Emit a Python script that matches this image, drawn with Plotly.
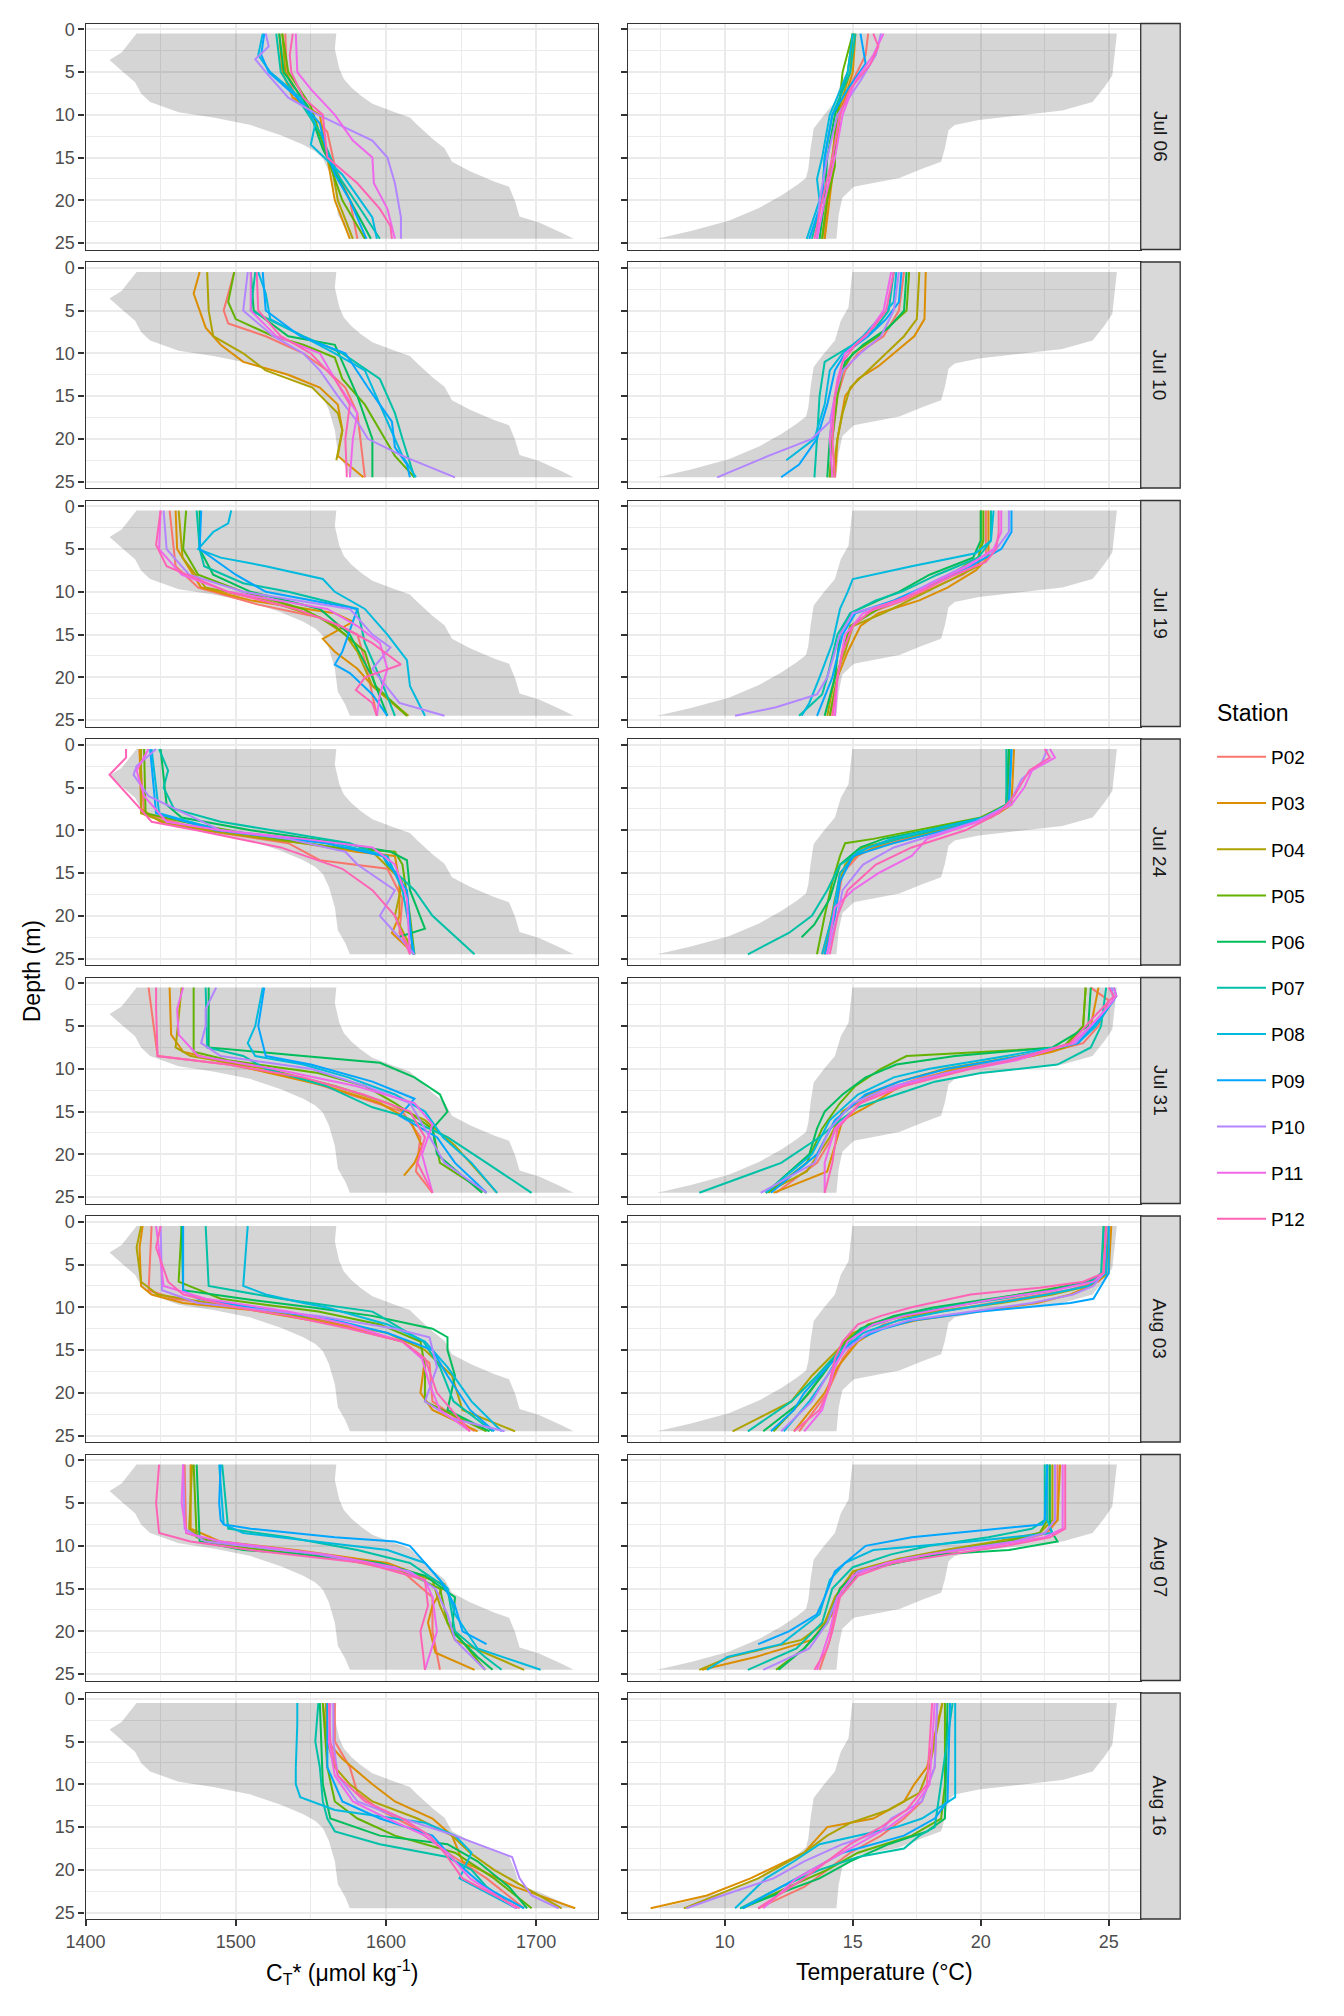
import plotly.graph_objects as go

# ---------------- data ----------------
STATIONS = ["P02", "P03", "P04", "P05", "P06", "P07", "P08", "P09", "P10", "P11", "P12"]
COLORS = ["#F8766D", "#DB8E00", "#AEA200", "#64B200", "#00BD5C", "#00C1A7",
          "#00BADE", "#00A6FF", "#B385FF", "#EF67EB", "#FF63B6"]
DATES = ["Jul 06", "Jul 10", "Jul 19", "Jul 24", "Jul 31", "Aug 03", "Aug 07", "Aug 16"]

X_TICKS_CT = [1400, 1500, 1600, 1700]
X_MINOR_CT = [1450, 1550, 1650]
X_TICKS_T = [10, 15, 20, 25]
X_MINOR_T = [7.5, 12.5, 17.5, 22.5]
Y_TICKS = [0, 5, 10, 15, 20, 25]
Y_MINOR = [2.5, 7.5, 12.5, 17.5, 22.5]

# envelope (depth, value)
BAND_CT_MIN = [(0.5, 1434), (2.7, 1424), (3.6, 1416), (4.1, 1419), (5, 1425), (6.2, 1433), (7.5, 1437),
               (8.5, 1443), (9.7, 1462), (10.3, 1485), (11.2, 1510), (12.4, 1530), (13.5, 1545),
               (14.3, 1553), (15.1, 1558), (16.6, 1562), (19, 1566), (21.7, 1568), (23.2, 1573), (24.5, 1576)]
BAND_CT_MAX = [(0.5, 1567), (2.3, 1566), (4.6, 1569), (5.8, 1572), (6.8, 1577), (7.7, 1583), (8.7, 1591),
               (9.7, 1606), (10.3, 1616), (11.2, 1621), (12.8, 1631), (13.9, 1639), (15.5, 1644),
               (16.6, 1656), (17.8, 1672), (18.4, 1682), (20.1, 1686), (21.3, 1688), (21.9, 1689),
               (22.6, 1702), (23.8, 1717), (24.5, 1725)]
BAND_T_MIN = [(0.5, 14.98), (4.6, 14.83), (6.2, 14.53), (8.5, 14.3), (10.1, 13.85), (11.6, 13.47),
              (13.9, 13.35), (16.3, 13.26), (17.4, 13.17), (18.2, 12.82), (19.4, 12.22), (20.9, 11.33),
              (22.4, 10.15), (23.6, 8.67), (24.2, 7.78), (24.5, 7.33)]
BAND_T_MAX = [(0.5, 25.32), (2.3, 25.26), (5.4, 25.14), (6.8, 24.82), (8.5, 24.37), (9.5, 23.19),
              (10.1, 21.41), (10.6, 19.93), (11.2, 18.98), (11.8, 18.74), (13.9, 18.6), (15.5, 18.45),
              (16.3, 17.71), (17.4, 16.82), (18.4, 15.04), (19.7, 14.59), (21.7, 14.45), (24.5, 14.36)]

# profiles: station -> [[depth, value], ...]
CT_JUL06 = {
    "P02": [[0.5, 1533], [5, 1534], [8, 1540], [12, 1561], [16, 1566], [20, 1576], [24.5, 1581]],
    "P03": [[0.5, 1529], [5, 1531], [8, 1538], [10, 1556], [15, 1561], [20, 1566], [24.5, 1576]],
    "P04": [[0.5, 1531], [5, 1533], [9, 1547], [15, 1563], [20, 1568], [24.5, 1578]],
    "P05": [[0.5, 1531], [5, 1535], [9, 1550], [15, 1561], [20, 1571], [24.5, 1586]],
    "P06": [[0.5, 1529], [5, 1532], [9, 1548], [14, 1558], [19, 1573], [24.5, 1590]],
    "P07": [[0.5, 1527], [5, 1530], [8, 1541], [12, 1556], [17, 1568], [21, 1583], [24.5, 1596]],
    "P08": [[0.5, 1518], [3, 1515], [5, 1523], [8, 1543], [11, 1553], [13.5, 1550], [17, 1571], [20, 1583], [22, 1591], [24.5, 1594]],
    "P09": [[0.5, 1519], [3, 1517], [5, 1522], [8, 1541], [11, 1556], [14, 1560], [17, 1566], [20, 1576], [24.5, 1587]],
    "P10": [[0.5, 1520], [2, 1522], [3.5, 1513], [5, 1520], [8, 1535], [10, 1555], [13, 1591], [15, 1601], [18, 1606], [22, 1610], [24.5, 1610]],
    "P11": [[0.5, 1540], [5, 1541], [7, 1550], [10, 1566], [13, 1578], [15, 1591], [18, 1592], [21, 1601], [24.5, 1606]],
    "P12": [[0.5, 1538], [3, 1536], [5, 1537], [8, 1545], [10, 1558], [15, 1561], [18, 1581], [21, 1596], [23, 1603], [24.5, 1604]],
}
T_JUL06 = {
    "P02": [[0.5, 15.6], [3, 15.5], [6, 15.0], [10, 14.4], [15, 14.2], [20, 14.0], [24.5, 13.9]],
    "P03": [[0.5, 15.1], [5, 15.0], [10, 14.5], [15, 14.3], [20, 14.1], [24.5, 13.9]],
    "P04": [[0.5, 15.0], [5, 14.9], [10, 14.4], [15, 14.2], [20, 14.0], [24.5, 13.8]],
    "P05": [[0.5, 15.0], [5, 14.6], [8, 14.5], [12, 14.3], [16, 14.3], [20, 14.0], [24.5, 13.8]],
    "P06": [[0.5, 15.0], [5, 14.8], [10, 14.3], [15, 14.0], [20, 13.9], [24.5, 13.7]],
    "P07": [[0.5, 15.1], [5, 14.9], [10, 14.2], [15, 13.9], [20, 13.8], [24.5, 13.4]],
    "P08": [[0.5, 15.0], [5, 14.8], [10, 14.1], [15, 13.8], [17.5, 13.6], [20, 13.7], [24.5, 13.2]],
    "P09": [[0.5, 15.3], [4, 15.5], [7, 14.8], [10, 14.2], [15, 13.9], [20, 13.8], [24.5, 13.3]],
    "P10": [[0.5, 16.1], [3, 15.9], [6, 15.3], [10, 14.4], [15, 14.0], [20, 13.7], [24.5, 13.6]],
    "P11": [[0.5, 16.2], [3, 15.8], [6, 15.1], [10, 14.6], [15, 14.3], [20, 13.9], [24.5, 13.6]],
    "P12": [[0.5, 15.8], [2, 16.0], [4, 15.7], [7, 14.9], [10, 14.5], [15, 14.2], [20, 13.8], [24.5, 13.5]],
}
CT_JUL10 = {
    "P02": [[0.5, 1499], [5, 1492], [6.5, 1495], [8, 1520], [10, 1545], [12, 1561], [14, 1573], [17, 1581], [20, 1583], [24.5, 1586]],
    "P03": [[0.5, 1476], [3, 1472], [5, 1476], [7, 1480], [9, 1490], [11, 1505], [12.5, 1535], [14, 1556], [16, 1568], [19, 1571], [22, 1568], [24.5, 1585]],
    "P04": [[0.5, 1481], [5, 1482], [8, 1485], [10, 1505], [12, 1520], [14, 1551], [17, 1568], [19, 1571], [22.5, 1567]],
    "P05": [[0.5, 1499], [4, 1495], [6, 1500], [8, 1525], [9, 1545], [10.5, 1566], [13, 1571], [16, 1586], [19, 1596], [22, 1606], [24.5, 1619]],
    "P06": [[0.5, 1510], [5, 1512], [8, 1535], [9, 1566], [11, 1571], [15, 1581], [20, 1591], [24.5, 1591]],
    "P07": [[0.5, 1513], [5, 1510], [8, 1545], [10, 1571], [13, 1596], [17, 1606], [20, 1611], [24.5, 1619]],
    "P08": [[0.5, 1515], [3, 1520], [6, 1523], [8, 1545], [10, 1566], [12, 1586], [16, 1596], [20, 1606], [22, 1611], [24.5, 1620]],
    "P09": [[0.5, 1518], [5, 1520], [8, 1543], [10, 1573], [14, 1588], [18, 1604], [21, 1606], [23, 1614], [24.5, 1616]],
    "P10": [[0.5, 1508], [5, 1505], [8, 1525], [10, 1545], [12, 1556], [15, 1568], [18, 1581], [20, 1588], [22, 1611], [24.5, 1646]],
    "P11": [[0.5, 1510], [5, 1510], [8, 1527], [10, 1556], [13, 1566], [17, 1581], [20, 1578], [24.5, 1576]],
    "P12": [[0.5, 1514], [5, 1515], [8, 1530], [10, 1550], [13, 1566], [16, 1576], [20, 1573], [24.5, 1574]],
}
T_JUL10 = {
    "P02": [[0.5, 17.0], [5, 16.8], [8, 16.2], [10, 15.2], [12, 14.7], [15, 14.4], [20, 14.2], [24.5, 14.1]],
    "P03": [[0.5, 17.85], [6, 17.8], [8, 17.4], [10, 16.6], [11.5, 16.0], [13, 15.2], [15, 14.7], [20, 14.4], [24.5, 14.3]],
    "P04": [[0.5, 17.6], [6, 17.5], [8, 17.0], [10, 16.3], [12, 15.6], [14, 14.9], [17, 14.6], [20, 14.4], [24.5, 14.2]],
    "P05": [[0.5, 17.2], [5, 17.1], [8, 16.0], [10, 15.0], [12, 14.6], [15, 14.4], [20, 14.2], [24.5, 14.1]],
    "P06": [[0.5, 17.1], [5, 17.0], [7, 16.4], [9, 15.4], [11, 14.7], [15, 14.3], [20, 14.1], [24.5, 14.0]],
    "P07": [[0.5, 16.6], [5, 16.4], [7, 15.9], [9, 15.0], [11, 13.9], [15, 13.7], [20, 13.6], [24.5, 13.5]],
    "P08": [[0.5, 16.7], [4, 16.6], [6, 16.0], [8, 15.4], [10, 14.6], [12, 14.1], [16, 13.9], [20, 13.5], [22.5, 12.4]],
    "P09": [[0.5, 16.9], [4, 16.8], [6, 16.3], [8, 15.6], [10, 14.7], [12, 14.3], [16, 14.0], [20, 13.6], [23, 12.9], [24.5, 12.2]],
    "P10": [[0.5, 16.8], [5, 16.6], [8, 16.1], [10, 15.3], [12, 14.6], [15, 14.3], [18, 14.1], [20, 13.4], [22, 11.7], [24.5, 9.7]],
    "P11": [[0.5, 16.5], [5, 16.2], [8, 15.5], [10, 14.7], [13, 14.4], [17, 14.2], [20, 14.1], [24.5, 14.2]],
    "P12": [[0.5, 16.6], [5, 16.3], [7, 15.8], [9, 15.1], [11, 14.6], [15, 14.3], [20, 14.2], [24.5, 14.3]],
}
CT_JUL19 = {
    "P02": [[0.5, 1456], [7, 1460], [9.5, 1475], [11.5, 1515], [13, 1556], [15, 1581], [18, 1586], [22, 1591], [24.5, 1594]],
    "P03": [[0.5, 1460], [5, 1461], [9.5, 1477], [11, 1510], [12.5, 1566], [13.5, 1578], [15.5, 1558], [17, 1566], [19, 1581], [21, 1591], [24.5, 1614]],
    "P04": [[0.5, 1462], [6, 1464.6], [9.5, 1480], [11, 1520], [13, 1556], [15, 1573], [17, 1581], [21, 1591], [24.5, 1615]],
    "P05": [[0.5, 1467], [5, 1465], [8, 1475], [10, 1505], [12, 1545], [14, 1566], [17, 1586], [21, 1593], [24.5, 1614]],
    "P06": [[0.5, 1476], [5, 1476], [8, 1485], [10, 1510], [12, 1556], [15, 1576], [20, 1591], [24.5, 1601]],
    "P07": [[0.5, 1474], [5, 1476], [7, 1479], [9, 1505], [10, 1535], [12, 1581], [16, 1586], [20, 1596], [24.5, 1606]],
    "P08": [[0.5, 1497], [2, 1495], [3, 1485], [5, 1475], [6, 1490], [7, 1520], [8.5, 1558], [10, 1566], [12, 1586], [15, 1601], [18, 1614], [21, 1616], [24.5, 1626]],
    "P09": [[0.5, 1477], [5, 1476], [8, 1500], [10, 1520], [12, 1581], [14.5, 1576], [17, 1571], [18.5, 1566], [19.5, 1576], [22, 1591], [24.5, 1601]],
    "P10": [[0.5, 1452], [5, 1454], [8, 1469], [10, 1505], [12, 1576], [15, 1591], [16.5, 1603], [19, 1591], [23, 1609], [24.5, 1639]],
    "P11": [[0.5, 1450], [5, 1449], [8, 1464], [10, 1495], [12, 1561], [14, 1581], [16, 1596], [19, 1601], [22, 1596], [24.5, 1594]],
    "P12": [[0.5, 1450], [4.5, 1447], [7, 1454], [10, 1495], [12, 1540], [14, 1570], [16, 1591], [18.5, 1610], [20, 1586], [21.5, 1580], [23, 1591], [24.5, 1594]],
}
T_JUL19 = {
    "P02": [[0.5, 20.2], [4, 20.2], [6, 20.2], [8, 19.3], [10, 17.8], [11, 17.0], [12.5, 15.6], [14, 15.0], [17, 14.6], [20, 14.4], [24.5, 14.2]],
    "P03": [[0.5, 20.3], [4, 20.3], [6, 20.3], [7.5, 19.8], [9.5, 18.7], [11, 17.6], [12.5, 16.0], [14, 15.3], [17, 14.8], [20, 14.4], [24.5, 14.1]],
    "P04": [[0.5, 20.0], [4, 20.0], [7, 19.9], [9.5, 18.2], [11, 17.2], [12.5, 16.2], [14, 15.0], [17, 14.7], [20, 14.3], [24.5, 14.0]],
    "P05": [[0.5, 20.1], [4, 20.1], [6, 19.9], [8, 18.8], [10, 17.5], [12, 16.0], [14, 14.9], [17, 14.6], [20, 14.4], [24.5, 14.1]],
    "P06": [[0.5, 20.0], [4, 20.0], [6, 19.7], [8, 18.0], [10, 16.8], [11, 16.0], [12.5, 14.9], [15, 14.5], [20, 14.3], [24.5, 13.9]],
    "P07": [[0.5, 20.4], [4, 20.4], [6, 19.9], [8, 18.3], [10, 16.9], [11, 15.9], [12.5, 14.9], [15, 14.4], [20, 14.0], [22, 13.8], [24.5, 12.9]],
    "P08": [[0.5, 20.5], [4, 20.4], [5.5, 19.8], [7, 17.3], [8.5, 15.0], [10, 14.8], [12, 14.5], [16, 14.2], [20, 13.7], [23, 13.3], [24.5, 13.0]],
    "P09": [[0.5, 21.2], [3, 21.2], [5, 20.8], [7, 19.6], [9, 18.1], [11, 16.6], [12.5, 15.1], [15, 14.6], [20, 14.2], [24.5, 13.6]],
    "P10": [[0.5, 21.1], [3, 21.1], [5, 20.6], [7, 19.4], [9, 18.0], [11, 16.8], [12.5, 15.0], [15, 14.5], [20, 14.0], [22, 13.6], [23.5, 12.0], [24.5, 10.4]],
    "P11": [[0.5, 20.8], [3, 20.8], [5, 20.5], [7, 19.5], [9, 18.1], [11, 16.9], [12.5, 15.4], [15, 14.7], [20, 14.4], [24.5, 14.3]],
    "P12": [[0.5, 20.7], [3, 20.7], [5, 20.6], [6.5, 20.2], [8, 19.0], [10, 17.6], [12, 15.8], [14, 15.0], [17, 14.6], [20, 14.4], [24.5, 14.2]],
}
CT_JUL24 = {
    "P02": [[0.5, 1436], [8, 1439], [10, 1478], [11.5, 1535], [13.5, 1556], [14.5, 1601], [18, 1611], [22, 1609], [24.5, 1619]],
    "P03": [[0.5, 1436], [7.5, 1437], [9, 1450], [10, 1485], [11.5, 1545], [12.5, 1580], [13, 1606], [16, 1609], [20, 1609], [22, 1604], [24.5, 1619]],
    "P04": [[0.5, 1437], [8, 1437], [9.5, 1460], [11, 1520], [12.5, 1591], [16, 1611], [20, 1606], [24.5, 1619]],
    "P05": [[0.5, 1439], [8, 1440], [9, 1465], [10.5, 1510], [12, 1566], [12.5, 1606], [14, 1611], [20, 1616], [24.5, 1619]],
    "P06": [[0.5, 1450], [7, 1454], [8.5, 1464], [10, 1510], [11.5, 1571], [12.5, 1603], [13.5, 1614], [17, 1616], [21.5, 1626], [22.5, 1608]],
    "P07": [[0.5, 1449], [3, 1455], [5, 1452], [7.5, 1459], [9, 1490], [10.5, 1540], [11.5, 1576], [13, 1598], [14, 1601], [17, 1619], [20, 1631], [24.5, 1659]],
    "P08": [[0.5, 1444], [8, 1449], [10, 1490], [11.5, 1566], [13, 1601], [17, 1611], [24.5, 1619]],
    "P09": [[0.5, 1443], [8, 1447], [10, 1487], [11.5, 1560], [13, 1598], [17, 1614], [24.5, 1618]],
    "P10": [[0.5, 1447], [2.5, 1434], [3.5, 1432], [6, 1442], [10, 1490], [11, 1535], [12.5, 1573], [14, 1581], [17, 1606], [20, 1596], [24.5, 1619]],
    "P11": [[0.5, 1442], [3, 1434], [6, 1439], [9, 1454], [10, 1490], [11, 1545], [12, 1591], [14, 1606], [18, 1614], [24.5, 1616]],
    "P12": [[0.5, 1427], [1.5, 1427], [3.5, 1416], [5, 1424], [7, 1434], [9, 1444], [10, 1474], [12, 1530], [14.5, 1571], [17, 1591], [20, 1606], [24.5, 1616]],
}
T_JUL24 = {
    "P02": [[0.5, 21.1], [7, 21.1], [8, 20.6], [9, 19.6], [10, 18.3], [11, 17.0], [12, 15.8], [13, 15.2], [15, 14.6], [20, 14.3], [24.5, 13.9]],
    "P03": [[0.5, 21.3], [7, 21.2], [8, 20.7], [9.5, 19.3], [11, 17.2], [12, 15.9], [13, 15.1], [15, 14.5], [20, 14.2], [24.5, 13.8]],
    "P04": [[0.5, 21.1], [7, 21.1], [8.5, 20.4], [10, 18.5], [11, 16.7], [12, 15.4], [14, 14.7], [18, 14.3], [24.5, 13.9]],
    "P05": [[0.5, 21.1], [7, 21.0], [8.5, 20.0], [10, 17.5], [11, 15.8], [11.5, 14.7], [13, 14.5], [16, 14.2], [20, 13.9], [24.5, 13.6]],
    "P06": [[0.5, 21.1], [7, 21.0], [8.5, 20.1], [10, 17.9], [11, 16.2], [12, 15.3], [14, 14.5], [18, 14.1], [21, 13.5], [22.5, 13.0]],
    "P07": [[0.5, 21.0], [7, 21.0], [8.5, 20.2], [10, 18.2], [11, 16.8], [12, 15.6], [14, 14.5], [17, 14.0], [20, 13.4], [22, 12.5], [24.5, 10.9]],
    "P08": [[0.5, 21.2], [7, 21.1], [8.5, 20.1], [10, 18.0], [11, 16.5], [12.5, 15.2], [15, 14.5], [20, 14.2], [24.5, 13.8]],
    "P09": [[0.5, 21.2], [7, 21.1], [8.5, 20.3], [10, 18.6], [11.5, 16.6], [13, 15.0], [16, 14.5], [20, 14.3], [24.5, 13.9]],
    "P10": [[0.5, 22.6], [2, 22.4], [4, 21.6], [7, 21.1], [9, 19.8], [10.5, 18.2], [12, 16.6], [14, 15.4], [17, 14.6], [20, 14.4], [24.5, 14.0]],
    "P11": [[0.5, 22.7], [1.5, 22.9], [3, 22.0], [5, 21.7], [7, 21.2], [9, 19.9], [11, 17.9], [13, 17.3], [15, 16.0], [17, 15.0], [19, 14.3], [24.5, 14.0]],
    "P12": [[0.5, 22.5], [1.5, 22.7], [3, 21.9], [6, 21.3], [8, 20.7], [10, 19.4], [12, 17.3], [14, 15.9], [17, 14.8], [20, 14.4], [24.5, 14.1]],
}
CT_JUL31 = {
    "P02": [[0.5, 1442], [8.5, 1448], [9.5, 1495], [11, 1540], [13, 1576], [15, 1611], [18, 1623], [22, 1620], [24.5, 1631]],
    "P03": [[0.5, 1456], [6, 1457], [8, 1465], [10, 1510], [12, 1560], [14, 1596], [16, 1616], [19, 1624], [21, 1619], [22.5, 1612]],
    "P04": [[0.5, 1464], [7.5, 1460], [8.5, 1470], [10, 1520], [12, 1566], [14, 1601], [16, 1626], [19, 1646], [24.5, 1674]],
    "P05": [[0.5, 1472], [8, 1472], [9, 1495], [10.5, 1555], [12, 1586], [14, 1606], [17, 1631], [21, 1636], [24.5, 1667]],
    "P06": [[0.5, 1482], [7.5, 1482], [8.5, 1545], [9.3, 1596], [11, 1619], [13, 1636], [15, 1641], [17, 1631], [20, 1634], [24.5, 1664]],
    "P07": [[0.5, 1480], [7.5, 1481], [8.5, 1505], [10, 1520], [12, 1560], [14.5, 1591], [15.5, 1611], [18, 1641], [21, 1667], [24.5, 1697]],
    "P08": [[0.5, 1518], [5, 1513], [7, 1508], [8.5, 1513], [9.5, 1545], [11, 1575], [13, 1606], [15, 1626], [18, 1638], [21, 1657], [24.5, 1674]],
    "P09": [[0.5, 1519], [5, 1515], [8.5, 1520], [9.5, 1550], [11.5, 1591], [13.5, 1619], [15.5, 1609], [18, 1634], [21, 1646], [24.5, 1667]],
    "P10": [[0.5, 1487], [3, 1480], [5, 1480], [7, 1477], [8.5, 1490], [10, 1550], [12, 1586], [14, 1616], [17, 1626], [21, 1639], [24.5, 1667]],
    "P11": [[0.5, 1465], [3, 1461], [6, 1462], [8.5, 1475], [10, 1525], [12, 1580], [14, 1619], [16.5, 1631], [20, 1624], [24.5, 1631]],
    "P12": [[0.5, 1447], [3, 1447], [8.5, 1448], [9.5, 1495], [11, 1545], [13, 1585], [15, 1616], [18, 1626], [21, 1621], [24.5, 1631]],
}
T_JUL31 = {
    "P02": [[0.5, 24.3], [2, 25.0], [5, 24.6], [7, 24.0], [8.5, 22.0], [10, 19.3], [11, 17.7], [12.5, 16.2], [15, 14.6], [18, 14.2], [21, 13.6], [24.5, 12.0]],
    "P03": [[0.5, 24.6], [5, 24.3], [7, 23.8], [8, 22.8], [9, 21.2], [10, 19.0], [11.5, 17.4], [12.5, 16.6], [14, 15.8], [16, 14.6], [19, 14.3], [22, 14.0], [24.5, 11.9]],
    "P04": [[0.5, 24.1], [5, 24.0], [7.5, 23.3], [8.5, 21.5], [10, 18.6], [11.5, 16.8], [13, 15.6], [15, 14.6], [18, 14.1], [22, 13.2], [24.5, 11.6]],
    "P05": [[0.5, 24.1], [5, 24.0], [7.5, 23.2], [8.5, 17.1], [10, 16.1], [12, 15.1], [14, 14.5], [17, 13.8], [21, 13.2], [24.5, 11.7]],
    "P06": [[0.5, 24.3], [5, 24.2], [7.5, 22.8], [8.5, 19.0], [9.5, 16.7], [11, 15.5], [13, 14.6], [15, 13.9], [17, 13.6], [20, 13.3], [24.5, 11.6]],
    "P07": [[0.5, 24.9], [5, 24.7], [7.5, 24.3], [9.5, 23.0], [10.5, 20.0], [11.5, 18.2], [12.5, 17.2], [14.5, 15.2], [16.5, 14.3], [18, 13.7], [21, 12.2], [24.5, 9.0]],
    "P08": [[0.5, 25.2], [1.5, 25.3], [5, 24.5], [7, 23.8], [8.5, 21.0], [10, 18.0], [11, 16.6], [13, 15.2], [16, 14.1], [20, 13.4], [24.5, 11.6]],
    "P09": [[0.5, 25.1], [2, 25.2], [5, 24.4], [7, 23.8], [8.5, 21.6], [10, 18.7], [11.5, 16.8], [13, 15.5], [16, 14.3], [20, 13.6], [24.5, 11.8]],
    "P10": [[0.5, 25.1], [2, 25.2], [5, 24.3], [7, 23.7], [9, 21.0], [10.5, 18.6], [12, 16.6], [14, 15.0], [17, 14.1], [21, 13.5], [24.5, 11.4]],
    "P11": [[0.5, 25.2], [1.5, 25.3], [4, 24.6], [7, 23.6], [9, 21.4], [10.5, 18.8], [12, 16.8], [14, 15.3], [17, 14.3], [21, 13.9], [24.5, 13.9]],
    "P12": [[0.5, 25.0], [1.5, 25.2], [4, 24.4], [7, 23.5], [9, 21.2], [10, 19.6], [12, 17.0], [14, 15.3], [17, 14.4], [21, 14.2], [24.5, 13.9]],
}
CT_AUG03 = {
    "P02": [[0.5, 1444], [8, 1442], [9, 1459], [10.5, 1520], [12, 1570], [14, 1611], [16.5, 1629], [21, 1631], [24.5, 1659]],
    "P03": [[0.5, 1438], [3, 1436], [7.5, 1437], [8.5, 1444], [9.5, 1465], [10.3, 1510], [12, 1566], [14, 1611], [16, 1626], [20, 1623], [22, 1631], [24.5, 1661]],
    "P04": [[0.5, 1437], [3, 1434], [7, 1437], [8.5, 1448], [10, 1500], [11.5, 1560], [13, 1601], [15, 1626], [18, 1644], [22, 1651], [24.5, 1686]],
    "P05": [[0.5, 1464], [7, 1462], [9, 1490], [10.5, 1555], [12, 1596], [14, 1623], [17, 1626], [21, 1626], [24.5, 1667]],
    "P06": [[0.5, 1464], [8, 1465], [9, 1505], [10, 1550], [11, 1591], [12.5, 1631], [13.5, 1641], [15, 1641], [18, 1646], [22, 1641], [24.5, 1669]],
    "P07": [[0.5, 1480], [7.5, 1482], [9, 1530], [10.5, 1591], [11, 1596], [12.5, 1610], [14, 1625], [17, 1636], [21, 1645], [24.5, 1671]],
    "P08": [[0.5, 1508], [7.5, 1505], [8.5, 1520], [9.5, 1545], [10, 1560], [12, 1601], [14, 1626], [17, 1641], [21, 1657], [24.5, 1677]],
    "P09": [[0.5, 1465], [8, 1465], [9, 1475], [10, 1510], [11.5, 1566], [13, 1601], [15, 1631], [18, 1641], [22, 1656], [24.5, 1672]],
    "P10": [[0.5, 1450], [8, 1451], [9.5, 1475], [11, 1555], [12.5, 1606], [13.5, 1629], [17, 1634], [21, 1626], [23, 1644], [24.5, 1679]],
    "P11": [[0.5, 1447], [7.5, 1452], [9, 1480], [10.5, 1535], [12, 1575], [14, 1611], [16, 1624], [19, 1629], [22, 1636], [24.5, 1656]],
    "P12": [[0.5, 1450], [3, 1447], [7, 1455], [8.5, 1465], [10, 1500], [11, 1535], [12.5, 1576], [14, 1611], [16, 1626], [20, 1634], [24.5, 1656]],
}
T_AUG03 = {
    "P02": [[0.5, 24.9], [6, 24.9], [7, 24.6], [8, 23.4], [9, 21.4], [10, 19.4], [11, 17.5], [12, 16.2], [14, 15.1], [16, 14.6], [20, 14.0], [24.5, 12.9]],
    "P03": [[0.5, 25.1], [6, 25.0], [7.5, 24.3], [8.5, 23.5], [9.5, 22.2], [10.5, 19.8], [11.5, 17.5], [12.5, 16.0], [14, 15.2], [17, 14.4], [20, 13.9], [24.5, 12.7]],
    "P04": [[0.5, 25.0], [6, 24.9], [7.5, 24.2], [8.5, 22.8], [9.5, 20.8], [10.5, 18.2], [11.5, 16.2], [13, 15.0], [15, 14.4], [18, 13.4], [21, 12.6], [24.5, 10.3]],
    "P05": [[0.5, 24.8], [6, 24.8], [7, 24.3], [8, 22.4], [9, 20.6], [10, 18.6], [11, 16.8], [12, 15.6], [14, 14.7], [17, 14.0], [20, 13.3], [24.5, 11.9]],
    "P06": [[0.5, 24.9], [6, 24.8], [7, 24.2], [8, 22.6], [9, 20.4], [10, 18.2], [11, 16.6], [12.5, 15.3], [15, 14.5], [18, 13.8], [21, 13.0], [24.5, 11.5]],
    "P07": [[0.5, 24.8], [6, 24.7], [7, 24.3], [8, 22.8], [9, 20.8], [10, 18.6], [11, 16.9], [12.5, 15.4], [15, 14.5], [18, 13.6], [21, 12.6], [24.5, 10.9]],
    "P08": [[0.5, 24.9], [6, 24.9], [7.5, 24.2], [8.5, 22.6], [9.5, 20.6], [10.5, 18.5], [11.5, 16.8], [13, 15.4], [15, 14.6], [18, 14.0], [21, 13.3], [24.5, 12.3]],
    "P09": [[0.5, 25.0], [6, 25.0], [8, 24.6], [9, 24.4], [9.5, 23.5], [10.5, 20.0], [11.5, 17.4], [12.5, 16.2], [14, 15.0], [17, 14.0], [20, 13.1], [22, 12.7], [24.5, 11.8]],
    "P10": [[0.5, 24.9], [6, 24.8], [7.5, 24.4], [8.5, 23.6], [9.5, 22.0], [10.5, 19.6], [11.5, 17.2], [13, 15.6], [15, 14.7], [18, 14.0], [21, 13.4], [24.5, 12.2]],
    "P11": [[0.5, 24.9], [6, 24.8], [7, 24.4], [8, 22.9], [9, 20.6], [10, 18.8], [11, 17.0], [12, 15.8], [14, 14.8], [17, 14.3], [20, 14.0], [22, 13.8], [24.5, 13.1]],
    "P12": [[0.5, 24.9], [6, 24.8], [7, 24.0], [7.7, 22.3], [8.5, 19.6], [9.5, 18.1], [10, 17.3], [11, 16.1], [12, 15.2], [14, 14.6], [16, 14.3], [20, 14.0], [22, 13.7], [24.5, 12.7]],
}
CT_AUG07 = {
    "P02": [[0.5, 1466], [8.5, 1467], [9.5, 1485], [11, 1555], [13, 1611], [16, 1631], [20, 1631], [24.5, 1636]],
    "P03": [[0.5, 1470], [8, 1470], [9.5, 1490], [10.5, 1540], [12, 1601], [14.5, 1639], [17, 1631], [19, 1628], [22.5, 1633], [24.5, 1659]],
    "P04": [[0.5, 1471], [8, 1469], [9.5, 1480], [10.5, 1535], [12, 1596], [14, 1631], [17, 1636], [21, 1646], [24.5, 1692]],
    "P05": [[0.5, 1472], [9, 1474], [10, 1495], [11, 1545], [12.5, 1606], [15, 1636], [19, 1641], [24.5, 1666]],
    "P06": [[0.5, 1474], [9.5, 1476], [10.5, 1505], [11, 1545], [12, 1596], [13.5, 1626], [16, 1646], [20, 1644], [23, 1661], [24.5, 1671]],
    "P07": [[0.5, 1491], [8, 1495], [9, 1535], [10.5, 1581], [12, 1616], [15, 1641], [20, 1646], [23, 1666], [24.5, 1677]],
    "P08": [[0.5, 1489], [7.5, 1492], [8.5, 1505], [9.5, 1555], [10.5, 1601], [12, 1626], [15, 1641], [18, 1646], [22, 1661], [24.5, 1703]],
    "P09": [[0.5, 1490], [5, 1489], [7, 1490], [7.5, 1492], [8, 1510], [9, 1566], [9.5, 1606], [10, 1616], [12, 1626], [14, 1636], [17, 1646], [20, 1651], [21.5, 1667]],
    "P10": [[0.5, 1465], [8, 1466], [9.5, 1480], [11, 1555], [13, 1616], [15, 1633], [18, 1641], [21, 1646], [24.5, 1666]],
    "P11": [[0.5, 1465], [5, 1464], [8.5, 1467], [9.5, 1490], [11, 1560], [12.5, 1606], [14, 1626], [16, 1631], [20, 1634], [24.5, 1626]],
    "P12": [[0.5, 1449], [3, 1448], [5, 1447], [8.5, 1449], [9.5, 1470], [10.5, 1510], [12, 1586], [14, 1626], [17, 1628], [20, 1623], [24.5, 1626]],
}
T_AUG07 = {
    "P02": [[0.5, 23.0], [7, 23.0], [8.5, 22.6], [9.5, 21.4], [10.5, 19.0], [11.5, 17.0], [13, 15.1], [15, 14.5], [18, 14.3], [21, 14.1], [24.5, 13.7]],
    "P03": [[0.5, 23.1], [7, 23.0], [8.5, 22.5], [9.5, 21.0], [10.5, 19.2], [11.5, 17.4], [13, 15.3], [15, 14.5], [18, 14.2], [21, 13.4], [23, 11.2], [24.5, 9.1]],
    "P04": [[0.5, 22.8], [7, 22.8], [8.5, 22.3], [9.5, 20.6], [10.5, 18.6], [11.5, 16.8], [13, 15.0], [16, 14.3], [19, 13.9], [21, 13.0], [23, 10.2], [24.5, 9.0]],
    "P05": [[0.5, 22.6], [7, 22.6], [8.5, 22.3], [9.5, 21.0], [10.5, 19.0], [11.5, 17.0], [13, 15.3], [16, 14.4], [19, 14.0], [22, 13.1], [24.5, 12.0]],
    "P06": [[0.5, 22.7], [8, 22.7], [9.5, 23.0], [10.5, 21.1], [11, 18.4], [12, 16.7], [13, 15.2], [15, 14.5], [19, 14.0], [22, 13.1], [24.5, 12.1]],
    "P07": [[0.5, 22.5], [7, 22.5], [8, 22.0], [9, 20.3], [10, 18.0], [11, 16.5], [12.5, 15.0], [15, 14.2], [19, 13.8], [22, 12.8], [24.5, 10.9]],
    "P08": [[0.5, 22.6], [7, 22.6], [8.5, 22.8], [9.5, 19.6], [10.5, 15.8], [12, 14.7], [14, 14.1], [18, 13.7], [21.5, 12.2], [23, 10.1], [24.5, 9.3]],
    "P09": [[0.5, 22.6], [7, 22.5], [7.5, 22.4], [9, 17.3], [10, 15.5], [11.5, 14.9], [13, 14.3], [16, 13.9], [18, 13.6], [20, 12.5], [21.5, 11.3]],
    "P10": [[0.5, 22.9], [7, 22.9], [8.5, 22.5], [9.5, 21.3], [10.5, 19.0], [11.5, 17.0], [13, 15.2], [16, 14.4], [19, 14.0], [22, 13.3], [24.5, 11.5]],
    "P11": [[0.5, 23.2], [8, 23.2], [9, 22.5], [10, 20.5], [11, 18.0], [12, 16.3], [13.5, 15.0], [16, 14.4], [20, 14.1], [24.5, 13.6]],
    "P12": [[0.5, 23.3], [8, 23.3], [9, 22.7], [10, 21.0], [11, 18.8], [12, 16.6], [13.5, 15.2], [16, 14.5], [20, 14.2], [22, 14.0], [24.5, 13.5]],
}
CT_AUG16 = {
    "P02": [[0.5, 1566], [5, 1566], [8, 1576], [11, 1581], [13, 1596], [15, 1618], [18, 1641], [21, 1667], [24.5, 1692]],
    "P03": [[0.5, 1558], [5, 1561], [7, 1571], [10, 1591], [12, 1606], [14, 1631], [16, 1644], [19, 1651], [22, 1686], [24.5, 1726]],
    "P04": [[0.5, 1560], [5, 1561], [8, 1566], [10, 1576], [12, 1591], [14, 1621], [16, 1644], [18, 1656], [20, 1672], [23, 1702], [24.5, 1717]],
    "P05": [[0.5, 1558], [8, 1561], [12, 1566], [14, 1581], [16, 1606], [18, 1646], [21, 1672], [24.5, 1697]],
    "P06": [[0.5, 1556], [10, 1558], [14, 1563], [16, 1596], [17, 1641], [19, 1661], [22, 1682], [24.5, 1694]],
    "P07": [[0.5, 1555], [5, 1553], [8, 1556], [12, 1558], [14, 1561], [15.5, 1566], [17, 1596], [18.5, 1641], [20, 1657], [22, 1667], [24.5, 1687]],
    "P08": [[0.5, 1541], [3, 1541], [8, 1540], [10, 1540], [11.5, 1543], [13, 1566], [13.5, 1586], [14.5, 1626], [16, 1646], [18, 1657], [21, 1649], [24.5, 1687]],
    "P09": [[0.5, 1561], [8, 1561], [12, 1571], [14, 1596], [16, 1631], [19, 1646], [22, 1666], [24.5, 1692]],
    "P10": [[0.5, 1565], [5, 1565], [9, 1568], [12, 1581], [14, 1611], [16, 1646], [18.5, 1684], [21, 1689], [23, 1697], [24.5, 1715]],
    "P11": [[0.5, 1563], [5, 1562], [9, 1566], [12, 1578], [14, 1601], [16, 1626], [18, 1641], [21, 1656], [24.5, 1687]],
    "P12": [[0.5, 1562], [5, 1563], [9, 1568], [12, 1586], [14, 1611], [16, 1629], [18, 1639], [21, 1651], [24.5, 1689]],
}
T_AUG16 = {
    "P02": [[0.5, 18.3], [8, 18.2], [12, 17.7], [14, 17.0], [16, 16.1], [18, 14.9], [20, 14.0], [22, 13.1], [24.5, 11.3]],
    "P03": [[0.5, 18.5], [8, 17.9], [10, 17.4], [12, 17.0], [14, 15.8], [15, 14.0], [16, 13.7], [18, 13.1], [21, 11.0], [23, 9.3], [24.5, 7.1]],
    "P04": [[0.5, 18.5], [8, 18.0], [11, 17.6], [13, 16.4], [14.5, 14.9], [16, 14.0], [18, 13.1], [21, 11.3], [24.5, 8.4]],
    "P05": [[0.5, 18.6], [10, 18.6], [14, 18.45], [16, 17.3], [18, 15.2], [20, 14.0], [22, 12.5], [24.5, 10.7]],
    "P06": [[0.5, 18.7], [14, 18.6], [15.5, 17.9], [17, 16.4], [19, 14.9], [21, 13.7], [23, 11.9], [24.5, 10.6]],
    "P07": [[0.5, 18.9], [15, 18.2], [16, 17.6], [17.5, 17.0], [18.5, 15.2], [20, 13.7], [22, 12.2], [24.5, 10.6]],
    "P08": [[0.5, 19.0], [11.5, 19.0], [12.5, 18.5], [14, 17.7], [15, 16.7], [16, 15.2], [17, 13.7], [19, 12.7], [21, 11.6], [24.5, 10.4]],
    "P09": [[0.5, 18.8], [12, 18.7], [14, 18.2], [16, 17.0], [18, 14.6], [20, 13.4], [22, 12.2], [24.5, 10.7]],
    "P10": [[0.5, 18.3], [8, 18.2], [12, 17.7], [14, 16.5], [15.5, 16.1], [17, 14.6], [19, 13.1], [21, 11.9], [23, 9.9], [24.5, 8.5]],
    "P11": [[0.5, 18.2], [10, 18.0], [13, 17.3], [15, 16.4], [17, 15.2], [19, 14.0], [21, 12.8], [24.5, 11.5]],
    "P12": [[0.5, 18.1], [10, 17.9], [13, 17.1], [15, 16.1], [17, 14.9], [19, 14.0], [21, 13.1], [24.5, 11.3]],
}

CT_PROFILES = [CT_JUL06, CT_JUL10, CT_JUL19, CT_JUL24, CT_JUL31, CT_AUG03, CT_AUG07, CT_AUG16]
T_PROFILES = [T_JUL06, T_JUL10, T_JUL19, T_JUL24, T_JUL31, T_AUG03, T_AUG07, T_AUG16]

# ---------------- layout geometry (page pixels) ----------------
W, H = 1344, 2016
PAGE_OFFSET = 8  # default body margin of the html page
TOP0, PITCH, PH = 23.5, 238.5, 226.0
COLS_PX = [(85.5, 598.3), (628.4, 1140.7)]
STRIP_PX = (1140.7, 1180.2)
X_RANGES = [[1400.0, 1741.4], [6.23, 26.25]]
Y_RANGE = [25.75, -0.68]

FONT = "Liberation Sans, Arial, sans-serif"
GRID = "#EBEBEB"
DARK = "#333333"


def fx(px):
    return (px - PAGE_OFFSET) / W


def fy(py):
    return 1 - (py - PAGE_OFFSET) / H


fig = go.Figure()
layout = dict(
    width=W, height=H, margin=dict(l=0, r=0, t=0, b=0, pad=0, autoexpand=False),
    paper_bgcolor="white", plot_bgcolor="white",
    font=dict(family=FONT, color="black"),
    showlegend=True,
)
shapes = []
annotations = []

bands = [(BAND_CT_MIN, BAND_CT_MAX), (BAND_T_MIN, BAND_T_MAX)]
profiles_by_col = [CT_PROFILES, T_PROFILES]
xticks = [X_TICKS_CT, X_TICKS_T]
xminor = [X_MINOR_CT, X_MINOR_T]

for r, date in enumerate(DATES):
    top = TOP0 + r * PITCH
    bot = top + PH
    last = r == len(DATES) - 1
    for c in range(2):
        idx = r * 2 + c + 1
        xa = "x" if idx == 1 else f"x{idx}"
        ya = "y" if idx == 1 else f"y{idx}"
        xkey = "xaxis" if idx == 1 else f"xaxis{idx}"
        ykey = "yaxis" if idx == 1 else f"yaxis{idx}"
        layout[xkey] = dict(
            domain=[fx(COLS_PX[c][0]), fx(COLS_PX[c][1])], anchor=ya, automargin=False,
            range=X_RANGES[c], tickmode="array", tickvals=xticks[c],
            ticktext=[str(t) for t in xticks[c]],
            showgrid=True, gridcolor=GRID, gridwidth=1.8,
            minor=dict(tickmode="array", tickvals=xminor[c], showgrid=True,
                       gridcolor=GRID, gridwidth=0.9, ticks=""),
            zeroline=False, showline=True, mirror=True, linecolor=DARK, linewidth=1.3,
            ticks="outside" if last else "", ticklen=6, tickwidth=1.6, tickcolor=DARK,
            showticklabels=last, tickfont=dict(size=18, color="#4D4D4D", family=FONT),
        )
        layout[ykey] = dict(
            domain=[fy(bot), fy(top)], anchor=xa, automargin=False, range=Y_RANGE,
            tickmode="array", tickvals=Y_TICKS, ticktext=[str(t) for t in Y_TICKS],
            showgrid=True, gridcolor=GRID, gridwidth=1.8,
            minor=dict(tickmode="array", tickvals=Y_MINOR, showgrid=True,
                       gridcolor=GRID, gridwidth=0.9, ticks=""),
            zeroline=False, showline=True, mirror=True, linecolor=DARK, linewidth=1.3,
            ticks="outside", ticklen=6, tickwidth=1.6, tickcolor=DARK,
            showticklabels=(c == 0), tickfont=dict(size=18, color="#4D4D4D", family=FONT),
        )
        # envelope
        bmin, bmax = bands[c]
        bx = [v for d, v in bmin] + [v for d, v in reversed(bmax)]
        by = [d for d, v in bmin] + [d for d, v in reversed(bmax)]
        fig.add_trace(go.Scatter(x=bx, y=by, xaxis=xa, yaxis=ya, mode="lines",
                                 fill="toself", fillcolor="rgba(0,0,0,0.165)",
                                 line=dict(width=0), hoverinfo="skip", showlegend=False))
        prof = profiles_by_col[c][r]
        for s, col in zip(STATIONS, COLORS):
            pts = prof[s]
            fig.add_trace(go.Scatter(
                x=[p[1] for p in pts], y=[p[0] for p in pts], xaxis=xa, yaxis=ya,
                mode="lines", line=dict(color=col, width=2),
                name=s, legendgroup=s, showlegend=(idx == 1)))
    # facet strip
    shapes.append(dict(type="rect", xref="paper", yref="paper",
                       x0=fx(STRIP_PX[0]), x1=fx(STRIP_PX[1]), y0=fy(bot), y1=fy(top),
                       fillcolor="#D9D9D9", line=dict(color=DARK, width=1.3), layer="above"))
    annotations.append(dict(text=date, xref="paper", yref="paper",
                            x=fx((STRIP_PX[0] + STRIP_PX[1]) / 2), y=fy((top + bot) / 2),
                            xanchor="center", yanchor="middle",
                            showarrow=False, textangle=90,
                            font=dict(size=19, color="#1A1A1A", family=FONT)))

bottom = TOP0 + 7 * PITCH + PH
annotations.append(dict(text="Depth (m)", xref="paper", yref="paper",
                        x=fx(32), y=fy((TOP0 + bottom) / 2), xanchor="center", yanchor="middle",
                        showarrow=False, textangle=-90,
                        font=dict(size=23, color="black", family=FONT)))
annotations.append(dict(text="C<sub>T</sub>* (μmol kg<sup>-1</sup>)", xref="paper", yref="paper",
                        x=fx(sum(COLS_PX[0]) / 2), y=fy(1972), xanchor="center", yanchor="middle",
                        showarrow=False, font=dict(size=23, color="black", family=FONT)))
annotations.append(dict(text="Temperature (°C)", xref="paper", yref="paper",
                        x=fx(sum(COLS_PX[1]) / 2), y=fy(1972), xanchor="center", yanchor="middle",
                        showarrow=False, font=dict(size=23, color="black", family=FONT)))
annotations.append(dict(text="Station", xref="paper", yref="paper",
                        x=fx(1215), y=fy(713), xanchor="left", yanchor="middle",
                        showarrow=False, font=dict(size=23, color="black", family=FONT)))

layout["shapes"] = shapes
layout["annotations"] = annotations
layout["legend"] = dict(
    x=fx(1212), y=fy(738), xanchor="left", yanchor="top",
    font=dict(size=19, color="black", family=FONT),
    tracegroupgap=18.5, itemwidth=49, bgcolor="rgba(0,0,0,0)", borderwidth=0,
)
fig.update_layout(**layout)
fig.write_html("out.html")
